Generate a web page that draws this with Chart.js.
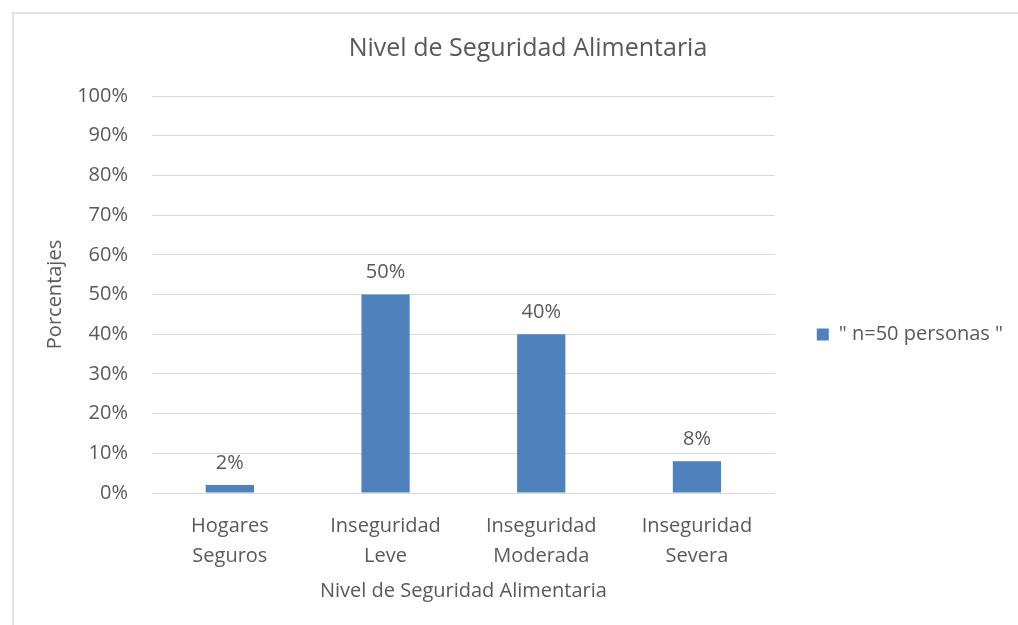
<!DOCTYPE html>
<html>
<head>
<meta charset="utf-8">
<script src="https://cdn.jsdelivr.net/npm/chart.js@4.4.1/dist/chart.umd.min.js"></script>
<style>
    html, body { margin: 0; padding: 0; background: #fff; }
    #wrap {
        position: absolute; left: 12px; top: 12px; width: 1006px; height: 613px;
        border-left: 2px solid #e3e3e3; border-top: 2px solid #e3e3e3;
    }
</style>
</head>
<body>
<div id="wrap"><canvas id="nivel-bar"></canvas></div>
<script>
// Nivel de Seguridad Alimentaria
let categories = [['Hogares', 'Seguros'], ['Inseguridad', 'Leve'], ['Inseguridad', 'Moderada'], ['Inseguridad', 'Severa']];
let values = [2, 50, 40, 8];
let seriesName = '" n=50 personas "';
let barColor = '#4f81bd';
let textColor = '#595959';

Chart.defaults.font.family = "'Open Sans', 'Noto Sans', sans-serif";
Chart.defaults.color = textColor;

// labels above the bars
let valueLabels = {
    id: 'valueLabels',
    afterDatasetsDraw(chart) {
        let c = chart.ctx;
        let meta = chart.getDatasetMeta(0);
        c.save();
        c.font = "20px 'Open Sans', sans-serif";
        c.fillStyle = textColor;
        c.textAlign = 'center';
        c.textBaseline = 'bottom';
        meta.data.forEach((bar, i) => {
            c.fillText(values[i] + '%', bar.x, bar.y - 12);
        });
        c.restore();
    }
};

let ctx = document.getElementById('nivel-bar').getContext('2d');
let myChart = new Chart(ctx, {
    type: 'bar',
    data: {
        labels: categories,
        datasets: [{
            label: seriesName,
            data: values,
            backgroundColor: barColor,
            categoryPercentage: 1,
            barPercentage: 0.31
        }]
    },
    options: {
        responsive: true,
        maintainAspectRatio: false,
        animation: false,
        layout: { padding: { left: 29, right: 7, top: 20, bottom: 24 } },
        plugins: {
            title: {
                display: true,
                text: 'Nivel de Seguridad Alimentaria',
                font: { size: 25, weight: 'normal' },
                color: textColor,
                padding: { top: 0, bottom: 32 }
            },
            legend: {
                position: 'right',
                title: { display: true, text: '', font: { size: 10 }, padding: 10 },
                labels: {
                    boxWidth: 12,
                    boxHeight: 12,
                    padding: 42,
                    font: { size: 20 },
                    color: textColor
                }
            },
            tooltip: { enabled: false }
        },
        scales: {
            x: {
                grid: { display: false },
                border: { color: '#d9d9d9' },
                ticks: { font: { size: 20, lineHeight: 1.5 }, color: textColor, padding: 10 },
                title: {
                    display: true,
                    text: 'Nivel de Seguridad Alimentaria',
                    font: { size: 20 },
                    color: textColor,
                    padding: { top: 0, bottom: 0 }
                },
                afterFit: (scale) => { scale.height = 110; }
            },
            y: {
                min: 0,
                max: 100,
                grid: { color: '#d9d9d9', drawTicks: false },
                border: { display: false },
                ticks: {
                    stepSize: 10,
                    font: { size: 20 },
                    color: textColor,
                    padding: 24,
                    callback: (v) => v + '%'
                },
                title: {
                    display: true,
                    text: 'Porcentajes',
                    font: { size: 20 },
                    color: textColor,
                    padding: { top: 0, bottom: 8 }
                },
                afterFit: (scale) => { scale.width = 109; }
            }
        }
    },
    plugins: [valueLabels]
});
</script>
</body>
</html>
